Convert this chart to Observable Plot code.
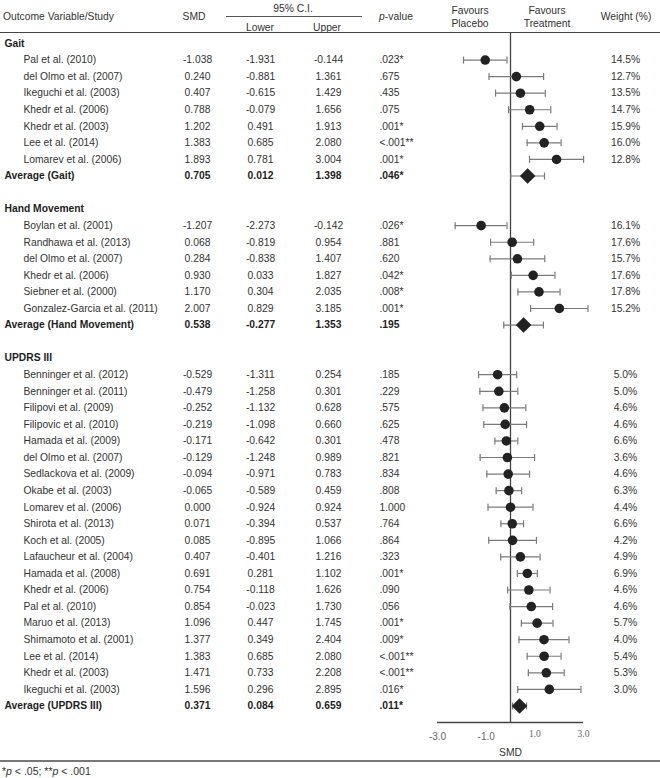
<!DOCTYPE html>
<html><head><meta charset="utf-8">
<script src="https://cdn.jsdelivr.net/npm/d3@7"></script>
<script src="https://cdn.jsdelivr.net/npm/@observablehq/plot@0.6"></script>
<style>
body{margin:0;background:#fff}
#wrap{position:relative;width:660px;height:778px;font-family:"Liberation Sans",Arial,sans-serif;font-size:10.3px;color:#333;overflow:hidden;background:#fff}
.h{position:absolute;transform:translate(-50%,-50%);white-space:nowrap;text-align:center;line-height:13px}
.l{position:absolute;transform:translate(0,-50%);white-space:nowrap;line-height:13px}
#chart{position:absolute;left:0;top:33px}
</style></head><body>
<div id="wrap">
  <div class="l" style="left:3px;top:16px">Outcome Variable/Study</div>
  <div class="h" style="left:194px;top:16px">SMD</div>
  <div class="h" style="left:293px;top:8px">95% C.I.</div>
  <div style="position:absolute;left:226px;top:16px;width:136px;border-top:1.4px solid #555"></div>
  <div class="h" style="left:260px;top:27px">Lower</div>
  <div class="h" style="left:327px;top:27px">Upper</div>
  <div class="h" style="left:396px;top:16px"><i>p</i>-value</div>
  <div class="h" style="left:470px;top:16.5px">Favours<br>Placebo</div>
  <div class="h" style="left:547px;top:16.5px">Favours<br>Treatment</div>
  <div class="h" style="left:626px;top:16px">Weight (%)</div>
  <div style="position:absolute;left:0;top:32px;width:660px;border-top:1.5px solid #444"></div>
  <div id="chart"></div>
  <div style="position:absolute;left:0;top:760px;width:660px;border-top:2px solid #777"></div>
  <div class="l" style="left:2px;top:771px;font-size:10.5px">*<i>p</i> &lt; .05; **<i>p</i> &lt; .001</div>
</div>
<script>
const sections = ["Gait", "Hand Movement", "UPDRS III"];
const averageLabels = ["Average (Gait)", "Average (Hand Movement)", "Average (UPDRS III)"];
const averageSMD = [0.705, 0.538, 0.371];
const averageLower = [0.012, -0.277, 0.084];
const averageUpper = [1.398, 1.353, 0.659];
const averageP = [".046*", ".195", ".011*"];

const gaitStudies = ["Pal et al. (2010)", "del Olmo et al. (2007)", "Ikeguchi et al. (2003)", "Khedr et al. (2006)", "Khedr et al. (2003)", "Lee et al. (2014)", "Lomarev et al. (2006)"];
const gaitSMD = [-1.038, 0.240, 0.407, 0.788, 1.202, 1.383, 1.893];
const gaitLower = [-1.931, -0.881, -0.615, -0.079, 0.491, 0.685, 0.781];
const gaitUpper = [-0.144, 1.361, 1.429, 1.656, 1.913, 2.080, 3.004];
const gaitP = [".023*", ".675", ".435", ".075", ".001*", "<.001**", ".001*"];
const gaitWeight = ["14.5%", "12.7%", "13.5%", "14.7%", "15.9%", "16.0%", "12.8%"];

const handStudies = ["Boylan et al. (2001)", "Randhawa et al. (2013)", "del Olmo et al. (2007)", "Khedr et al. (2006)", "Siebner et al. (2000)", "Gonzalez-Garcia et al. (2011)"];
const handSMD = [-1.207, 0.068, 0.284, 0.930, 1.170, 2.007];
const handLower = [-2.273, -0.819, -0.838, 0.033, 0.304, 0.829];
const handUpper = [-0.142, 0.954, 1.407, 1.827, 2.035, 3.185];
const handP = [".026*", ".881", ".620", ".042*", ".008*", ".001*"];
const handWeight = ["16.1%", "17.6%", "15.7%", "17.6%", "17.8%", "15.2%"];

const updrsStudies = ["Benninger et al. (2012)", "Benninger et al. (2011)", "Filipovi et al. (2009)", "Filipovic et al. (2010)", "Hamada et al. (2009)", "del Olmo et al. (2007)", "Sedlackova et al. (2009)", "Okabe et al. (2003)", "Lomarev et al. (2006)", "Shirota et al. (2013)", "Koch et al. (2005)", "Lafaucheur et al. (2004)", "Hamada et al. (2008)", "Khedr et al. (2006)", "Pal et al. (2010)", "Maruo et al. (2013)", "Shimamoto et al. (2001)", "Lee et al. (2014)", "Khedr et al. (2003)", "Ikeguchi et al. (2003)"];
const updrsSMD = [-0.529, -0.479, -0.252, -0.219, -0.171, -0.129, -0.094, -0.065, 0.000, 0.071, 0.085, 0.407, 0.691, 0.754, 0.854, 1.096, 1.377, 1.383, 1.471, 1.596];
const updrsLower = [-1.311, -1.258, -1.132, -1.098, -0.642, -1.248, -0.971, -0.589, -0.924, -0.394, -0.895, -0.401, 0.281, -0.118, -0.023, 0.447, 0.349, 0.685, 0.733, 0.296];
const updrsUpper = [0.254, 0.301, 0.628, 0.660, 0.301, 0.989, 0.783, 0.459, 0.924, 0.537, 1.066, 1.216, 1.102, 1.626, 1.730, 1.745, 2.404, 2.080, 2.208, 2.895];
const updrsP = [".185", ".229", ".575", ".625", ".478", ".821", ".834", ".808", "1.000", ".764", ".864", ".323", ".001*", ".090", ".056", ".001*", ".009*", "<.001**", "<.001**", ".016*"];
const updrsWeight = ["5.0%", "5.0%", "4.6%", "4.6%", "6.6%", "3.6%", "4.6%", "6.3%", "4.4%", "6.6%", "4.2%", "4.9%", "6.9%", "4.6%", "4.6%", "5.7%", "4.0%", "5.4%", "5.3%", "3.0%"];

const xTicksA = [-3, -1];
const xTicksB = [1, 3];

// build row table
const groups = [
  [gaitStudies, gaitSMD, gaitLower, gaitUpper, gaitP, gaitWeight],
  [handStudies, handSMD, handLower, handUpper, handP, handWeight],
  [updrsStudies, updrsSMD, updrsLower, updrsUpper, updrsP, updrsWeight]
];
const headerRows = [], studyRows = [], averageRows = [];
let r = 0;
groups.forEach(([st, sm, lo, up, p, w], g) => {
  headerRows.push({row: r++, label: sections[g]});
  st.forEach((s, i) => studyRows.push({row: r++, label: s, smd: sm[i], lower: lo[i], upper: up[i], p: p[i], weight: w[i]}));
  averageRows.push({row: r++, label: averageLabels[g], smd: averageSMD[g], lower: averageLower[g], upper: averageUpper[g], p: averageP[g]});
  r++;
});
const allRows = studyRows.concat(averageRows);

const FONT = "Liberation Sans, Arial, sans-serif";
const fmt = v => v.toFixed(3);
function cols(data, bold) {
  const o = {y: "row", frameAnchor: "left", fontFamily: FONT, fontSize: 10.3,
    fontWeight: bold ? "bold" : "normal", fill: bold ? "#1e1e1e" : "#333"};
  return [
    Plot.text(data, {...o, text: "label", dx: bold ? 4 : 23, textAnchor: "start"}),
    Plot.text(data, {...o, text: d => fmt(d.smd), dx: 197, textAnchor: "middle"}),
    Plot.text(data, {...o, text: d => fmt(d.lower), dx: 260, textAnchor: "middle"}),
    Plot.text(data, {...o, text: d => fmt(d.upper), dx: 328, textAnchor: "middle"}),
    Plot.text(data, {...o, text: "p", dx: 379, textAnchor: "start"})
  ];
}
const capSymbol = {draw(ctx, size) { const h = Math.sqrt(size / Math.PI); ctx.moveTo(0, -h); ctx.lineTo(0, h); }};
const diamondSymbol = {draw(ctx, size) { const h = Math.sqrt(size / Math.PI); ctx.moveTo(0, -h); ctx.lineTo(h, 0); ctx.lineTo(0, h); ctx.lineTo(-h, 0); ctx.closePath(); }};

const chart = Plot.plot({
  width: 660, height: 727,
  marginTop: 0, marginBottom: 38, marginLeft: 0, marginRight: 0,
  style: {fontFamily: FONT, fontSize: "10.3px", color: "#333", background: "transparent"},
  x: {domain: [-3, 3], range: [437, 583], label: null},
  y: {domain: [0, 41], range: [10, 689], axis: null},
  marks: [
    Plot.text(headerRows, {y: "row", text: "label", frameAnchor: "left", dx: 4, textAnchor: "start", fontFamily: FONT, fontSize: 10.3, fontWeight: "bold", fill: "#1e1e1e"}),
    ...cols(studyRows, false),
    ...cols(averageRows, true),
    Plot.text(studyRows, {y: "row", text: "weight", frameAnchor: "left", dx: 625, textAnchor: "middle", fontFamily: FONT, fontSize: 10.3, fill: "#333"}),
    Plot.ruleX([0], {stroke: "#444", strokeWidth: 1.3}),
    Plot.ruleY([41], {x1: () => -3, x2: () => 3, stroke: "#444", strokeWidth: 1.3}),
    Plot.ruleY(allRows, {y: "row", x1: "lower", x2: "upper", stroke: "#7a7a7a", strokeWidth: 1.2}),
    Plot.dot(allRows, {x: "lower", y: "row", symbol: capSymbol, r: 3.5, stroke: "#7a7a7a", strokeWidth: 1.2, fill: "none"}),
    Plot.dot(allRows, {x: "upper", y: "row", symbol: capSymbol, r: 3.5, stroke: "#7a7a7a", strokeWidth: 1.2, fill: "none"}),
    Plot.dot(studyRows, {x: "smd", y: "row", r: 4.8, fill: "#222", stroke: "none"}),
    Plot.dot(averageRows, {x: "smd", y: "row", symbol: diamondSymbol, r: 7.8, fill: "#222", stroke: "none"}),
    Plot.axisX({ticks: xTicksA, tickFormat: d => d.toFixed(1), tickSize: 0, tickPadding: 10, label: null, color: "#666", fontSize: 10, fontFamily: FONT}),
    Plot.axisX({ticks: xTicksB, tickFormat: d => d.toFixed(1), tickSize: 0, tickPadding: 8, label: null, color: "#666", fontSize: 9.5, fontFamily: "Liberation Serif, serif"}),
    Plot.text(["SMD"], {frameAnchor: "bottom", x: () => 0, text: d => d, dy: 33, fontFamily: FONT, fontSize: 10.3, fill: "#333"})
  ]
});
document.getElementById("chart").append(chart);
</script>
</body></html>
